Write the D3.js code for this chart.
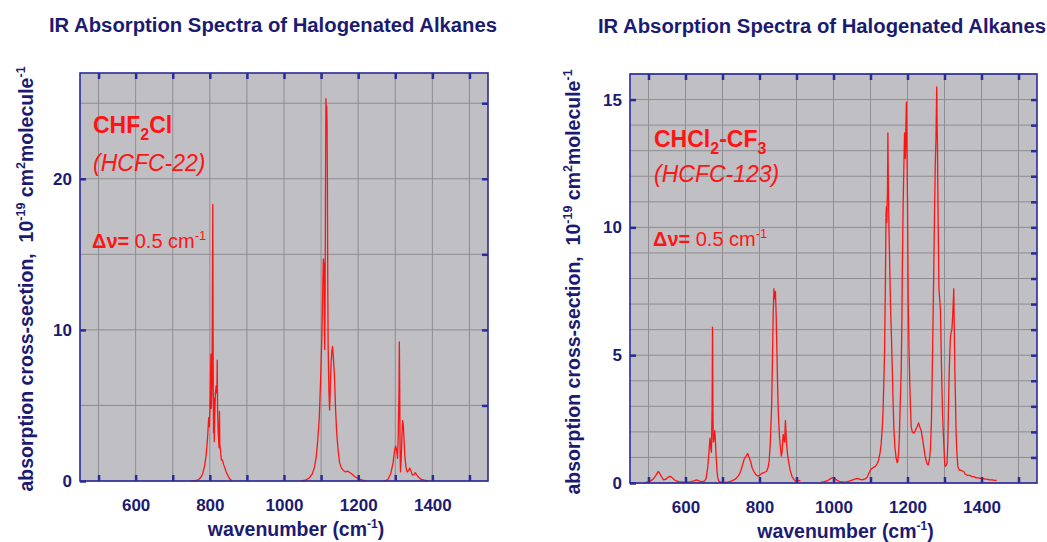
<!DOCTYPE html>
<html>
<head>
<meta charset="utf-8">
<script src="https://cdn.jsdelivr.net/npm/d3@7"></script>
<style>
  body { margin: 0; background: #fff; }
  svg { display: block; font-family: "Liberation Sans", Arial, sans-serif; }
</style>
</head>
<body>
<div id="chart"></div>
<script>
// ---- data ----
var chartTitle = "IR Absorption Spectra of Halogenated Alkanes";
var xTickValues = [500, 600, 700, 800, 900, 1000, 1100, 1200, 1300, 1400, 1500];
var xTickLabels = [600, 800, 1000, 1200, 1400];

// CHF2Cl (HCFC-22), null = gap in the record
var wnHCFC22 = [750, 762, 770, 776, 781, 786, 790, 794, 797, 799, 801, 803, 804, 806, 807, 808, 809, 810, 811, 812,
  813, 815, 817, 819, 820, 821, 823, 825, 826, 827, 829, 831, 834, 837, 840, 844, 848, 852, 856, 860,
  955,
  1048, 1060, 1068, 1076, 1082, 1087, 1091, 1095, 1099, 1102, 1104, 1106, 1108, 1109, 1110, 1111, 1112, 1113, 1114, 1115,
  1116, 1117, 1118, 1119, 1121, 1123, 1125, 1127, 1129, 1131, 1133, 1136, 1139, 1142, 1146, 1150, 1155, 1160, 1166, 1172,
  1178, 1184, 1190, 1197, 1205, 1212, 1220,
  1245,
  1270, 1280, 1288, 1294, 1298, 1301, 1304, 1306, 1308, 1310, 1311, 1312, 1313, 1314, 1316, 1318, 1320, 1322, 1324, 1326,
  1329, 1332, 1336, 1339, 1342, 1346, 1350, 1354, 1358, 1363, 1370, 1378, 1388];
var sigmaHCFC22 = [0, 0.02, 0.1, 0.25, 0.5, 1.0, 1.7, 2.9, 4.2, 3.6, 5.5, 8.4, 4.8, 6.5, 12, 18.3, 8, 3.2, 5.5, 2.6,
  4.0, 5.8, 6.3, 5.8, 8.0, 4.5, 3.0, 2.2, 4.6, 2.4, 2.0, 1.4, 1.4, 1.1, 0.9, 0.6, 0.4, 0.2, 0.08, 0,
  null,
  0, 0.08, 0.2, 0.45, 0.9, 1.6, 2.7, 4.1, 6.9, 9.5, 12, 14.7, 14.3, 10, 8.7, 13, 20, 25.3, 24.4, 24.8,
  23.8, 20, 13, 9, 6, 4.7, 6.3, 7.8, 8.6, 8.9, 8.2, 7.0, 4.8, 3.2, 2.0, 1.2, 0.85, 0.7, 0.6, 0.65,
  0.55, 0.45, 0.3, 0.2, 0.1, 0.05, 0,
  null,
  0, 0.1, 0.5, 1.2, 2.0, 2.3, 2.0, 1.5, 3, 6, 9.2, 6, 2, 0.6, 1.5, 3.0, 4.0, 3.6, 2.5, 1.6,
  0.9, 0.6, 0.7, 0.85, 0.7, 0.4, 0.4, 0.55, 0.4, 0.25, 0.1, 0.05, 0];

// CHCl2-CF3 (HCFC-123)
var wnHCFC123 = [488, 500, 508, 514, 520, 526, 530, 535, 541, 547, 552, 558, 563, 568, 575, 582, 595, 605, 615, 623,
  630, 636, 645, 652, 656, 660, 663, 666, 668, 670, 672, 673, 674, 675, 677, 679, 681, 683, 685, 687,
  690, 695, 713, 725, 735, 743, 749, 754, 759, 764, 768, 772, 776, 780, 785, 790, 795, 800, 807, 814,
  819, 823, 826, 829, 831, 833, 835, 837, 839, 840, 842, 843, 845, 847, 849, 851, 854, 857, 859, 861,
  863, 864, 866, 868, 870, 871, 873, 876, 879, 883, 888, 894, 900, 905, 911,
  940,
  965, 975, 982, 987, 993, 1001, 1006, 1010, 1018, 1030, 1037, 1045, 1052, 1058, 1064, 1070, 1077, 1084, 1091, 1096,
  1102, 1107, 1113, 1118, 1122, 1126, 1129, 1132, 1134, 1136, 1138, 1140, 1142, 1143, 1144, 1146, 1147, 1148, 1149, 1150,
  1152, 1154, 1157, 1159, 1161, 1163, 1166, 1169, 1172, 1174, 1176, 1178, 1180, 1183, 1185, 1186, 1188, 1190, 1192, 1194,
  1195, 1197, 1198, 1200, 1202, 1204, 1206, 1208, 1210, 1213, 1217, 1221, 1226, 1230, 1233, 1237, 1241, 1244, 1247, 1250,
  1253, 1256, 1259, 1262, 1265, 1267, 1269, 1271, 1273, 1275, 1277, 1278, 1279, 1280, 1281, 1282, 1283, 1285, 1287, 1289,
  1291, 1293, 1295, 1298, 1300, 1302, 1305, 1307, 1309, 1311, 1313, 1316, 1318, 1320, 1322, 1324, 1325, 1326, 1327, 1328,
  1330, 1331, 1333, 1336, 1340, 1343, 1347, 1352, 1356, 1361, 1368, 1374, 1379, 1386, 1392, 1397, 1405, 1410, 1415, 1422,
  1429, 1435, 1441];
var sigmaHCFC123 = [0, 0.05, 0.1, 0.18, 0.3, 0.45, 0.38, 0.25, 0.12, 0.15, 0.22, 0.26, 0.22, 0.15, 0.08, 0.05, 0.03, 0.03, 0.05, 0.08,
  0.12, 0.08, 0.04, 0.08, 0.2, 0.6, 1.1, 1.75, 1.4, 1.2, 3, 6.1, 3, 1.6, 1.7, 2.05, 1.6, 1.0, 0.5, 0.22,
  0.08, 0.03, 0.02, 0.08, 0.15, 0.28, 0.45, 0.7, 0.95, 1.05, 1.15, 1.0, 0.85, 0.6, 0.45, 0.33, 0.27, 0.3, 0.38, 0.42,
  0.45, 0.6, 0.85, 1.5, 2.3, 3.1, 4.8, 6.6, 7.6, 7.3, 7.2, 7.5, 6.6, 5.2, 3.8, 2.7, 1.8, 1.3, 1.05, 1.2,
  1.7, 1.9, 1.7, 1.6, 2.45, 2.2, 1.55, 1.1, 0.8, 0.5, 0.25, 0.12, 0.05, 0.1, 0.08,
  null,
  0.02, 0.05, 0.08, 0.12, 0.18, 0.22, 0.15, 0.1, 0.05, 0.03, 0.05, 0.08, 0.12, 0.15, 0.18, 0.15, 0.12, 0.15, 0.22, 0.4,
  0.55, 0.6, 0.65, 0.75, 0.9, 1.2, 1.55, 2.2, 2.85, 3.9, 5.1, 7.5, 10.5, 10.8, 10.2, 11.5, 13.7, 12, 11, 9.9,
  8.5, 7.0, 5.5, 4.4, 3.2, 2.2, 1.4, 1.0, 0.8, 0.85, 1.2, 1.8, 2.9, 4.4, 6.5, 8.3, 10.7, 12.2, 13.7, 12.7,
  13.5, 14.9, 13.5, 11.1, 7.0, 5.3, 4.0, 3.0, 2.2, 2.0, 1.95, 2.05, 2.2, 2.35, 2.2, 2.05, 1.7, 1.4, 1.1, 0.9,
  0.75, 0.7, 0.9, 1.3, 2.6, 4.4, 6.3, 8.3, 10.5, 12.4, 13.5, 14.5, 15.5, 14, 13.2, 11.5, 10, 7.6, 7.2, 6.8,
  5.2, 3.8, 2.6, 1.55, 0.9, 0.65, 0.7, 0.77, 1.6, 3.1, 4.5, 5.7, 5.9, 6.0, 6.5, 7.2, 7.6, 6.5, 5.5, 4.4,
  3.0, 2.2, 1.3, 0.65, 0.5, 0.5, 0.48, 0.45, 0.35, 0.3, 0.3, 0.25, 0.25, 0.2, 0.2, 0.18, 0.17, 0.15, 0.15, 0.12,
  0.12, 0.1, 0.1];

var yGridHCFC22 = [0, 5, 10, 15, 20, 25];
var yLabelsHCFC22 = [0, 10, 20];
var yGridHCFC123 = [0, 1, 2, 3, 4, 5, 6, 7, 8, 9, 10, 11, 12, 13, 14, 15, 16];
var yLabelsHCFC123 = [0, 5, 10, 15];

// ---- drawing ----
var navy = "#1b1b72";
var frame = "#2b2b9a";
var red = "#ff1414";
var W = 1047, H = 542;

var svg = d3.select("#chart").append("svg")
    .attr("width", W)
    .attr("height", H);

function drawPanel(p) {
    var x = d3.scaleLinear().domain([450, 1550]).range([p.left, p.right]);
    var y = d3.scaleLinear().domain([0, p.yMax]).range([p.bottom, p.top]);
    var g = svg.append("g");

    // title
    g.append("text")
        .attr("x", p.titleX).attr("y", p.titleY)
        .attr("text-anchor", "middle")
        .style("font-size", "20.3px").style("font-weight", "bold")
        .style("fill", navy)
        .text(chartTitle);

    // plot background
    g.append("rect")
        .attr("x", p.left).attr("y", p.top)
        .attr("width", p.right - p.left).attr("height", p.bottom - p.top)
        .style("fill", "#c0bfc3");

    // grid
    g.append("g").selectAll("line").data(xTickValues).enter().append("line")
        .attr("x1", d => x(d)).attr("x2", d => x(d))
        .attr("y1", p.top).attr("y2", p.bottom)
        .style("stroke", "#8e8d92").style("stroke-width", 1);
    g.append("g").selectAll("line").data(p.yGrid).enter().append("line")
        .attr("x1", p.left).attr("x2", p.right)
        .attr("y1", d => y(d)).attr("y2", d => y(d))
        .style("stroke", "#8e8d92").style("stroke-width", 1);

    // spectrum
    var pts = p.wn.map(function (d, i) { return [d, p.sigma[i]]; });
    var line = d3.line()
        .defined(d => d[1] !== null)
        .x(d => x(d[0]))
        .y(d => y(d[1]));
    g.append("path")
        .datum(pts)
        .attr("d", line)
        .style("fill", "none")
        .style("stroke", red)
        .style("stroke-width", 1.3)
        .style("stroke-linejoin", "round");

    // frame
    g.append("rect")
        .attr("x", p.left).attr("y", p.top)
        .attr("width", p.right - p.left).attr("height", p.bottom - p.top)
        .style("fill", "none").style("stroke", frame).style("stroke-width", 1.6);

    // axes: ticks inward
    var bottomAxis = d3.axisBottom(x).tickValues(xTickValues).tickSizeInner(-6).tickSizeOuter(0)
        .tickFormat(d => xTickLabels.indexOf(d) >= 0 ? d : "");
    var topAxis = d3.axisTop(x).tickValues(xTickValues).tickSizeInner(-6).tickSizeOuter(0).tickFormat("");
    var leftAxis = d3.axisLeft(y).tickValues(p.yLabels).tickSizeInner(-6).tickSizeOuter(0).tickFormat(d3.format("d"));
    var rightAxis = d3.axisRight(y).tickValues(p.yGrid.filter(d => d > 0 && d < p.yMax))
        .tickSizeInner(-6).tickSizeOuter(0).tickFormat("");

    function styleAxis(sel) {
        sel.select(".domain").remove();
        sel.selectAll(".tick line").style("stroke", frame).style("stroke-width", 2.5);
        sel.selectAll(".tick text")
            .style("font-family", "Liberation Sans, Arial, sans-serif")
            .style("font-size", "17px").style("font-weight", "bold")
            .style("fill", navy);
    }

    g.append("g").attr("transform", "translate(0," + p.bottom + ")").call(bottomAxis).call(styleAxis)
        .selectAll(".tick text").attr("y", 18).attr("dy", "0.71em");
    g.append("g").attr("transform", "translate(0," + p.top + ")").call(topAxis).call(styleAxis);
    g.append("g").attr("transform", "translate(" + p.left + ",0)").call(leftAxis).call(styleAxis)
        .selectAll(".tick text").attr("x", -8);
    g.append("g").attr("transform", "translate(" + p.right + ",0)").call(rightAxis).call(styleAxis);

    // x axis title
    var xt = g.append("text")
        .attr("x", (p.left + p.right) / 2 + 12).attr("y", p.bottom + 55)
        .attr("text-anchor", "middle")
        .style("font-size", "19.5px").style("font-weight", "bold").style("fill", navy);
    xt.append("tspan").text("wavenumber (cm");
    xt.append("tspan").attr("dy", -8).style("font-size", "12px").text("-1");
    xt.append("tspan").attr("dy", 8).text(")");

    // y axis title
    var yt = g.append("text")
        .attr("transform", "translate(" + p.yTitleX + "," + p.yTitleY + ") rotate(-90)")
        .attr("text-anchor", "middle")
        .style("font-size", "19.5px").style("font-weight", "bold").style("fill", navy);
    yt.append("tspan").text("absorption cross-section,\u00a0\u00a010");
    yt.append("tspan").attr("dy", -8).style("font-size", "12.5px").text("-19");
    yt.append("tspan").attr("dy", 8).text(" cm");
    yt.append("tspan").attr("dy", -8).style("font-size", "12.5px").text("2");
    yt.append("tspan").attr("dy", 8).text("molecule");
    yt.append("tspan").attr("dy", -8).style("font-size", "12.5px").text("-1");

    // compound labels
    var name = g.append("text")
        .attr("x", p.labelX).attr("y", p.nameY)
        .style("font-size", "23px").style("font-weight", "bold").style("fill", red);
    p.nameParts.forEach(function (part) {
        if (part.sub) {
            name.append("tspan").attr("dy", 7).style("font-size", "16px").text(part.t);
        } else {
            name.append("tspan").attr("dy", part.after ? -7 : 0).text(part.t);
        }
    });

    g.append("text")
        .attr("x", p.labelX).attr("y", p.codeY)
        .style("font-size", "23px").style("font-style", "italic").style("fill", red)
        .text(p.code);

    var res = g.append("text")
        .attr("x", p.labelX - 1).attr("y", p.resY)
        .style("font-size", "20px").style("fill", red);
    res.append("tspan").style("font-weight", "bold").text("\u0394\u03bd=");
    res.append("tspan").text(" 0.5 cm");
    res.append("tspan").attr("dy", -8).style("font-size", "13px").text("-1");
}

drawPanel({
    left: 80, right: 488, top: 73, bottom: 481, yMax: 27,
    wn: wnHCFC22, sigma: sigmaHCFC22,
    yGrid: yGridHCFC22, yLabels: yLabelsHCFC22,
    titleX: 273, titleY: 32,
    yTitleX: 33, yTitleY: 279,
    labelX: 93, nameY: 133, codeY: 171, resY: 248,
    nameParts: [{t: "CHF"}, {t: "2", sub: true}, {t: "Cl", after: true}],
    code: "(HCFC-22)"
});

drawPanel({
    left: 630, right: 1037, top: 74, bottom: 483, yMax: 16,
    wn: wnHCFC123, sigma: sigmaHCFC123,
    yGrid: yGridHCFC123, yLabels: yLabelsHCFC123,
    titleX: 822, titleY: 33,
    yTitleX: 580, yTitleY: 282,
    labelX: 654, nameY: 147, codeY: 182, resY: 246,
    nameParts: [{t: "CHCl"}, {t: "2", sub: true}, {t: "-CF", after: true}, {t: "3", sub: true}],
    code: "(HCFC-123)"
});
</script>
</body>
</html>
